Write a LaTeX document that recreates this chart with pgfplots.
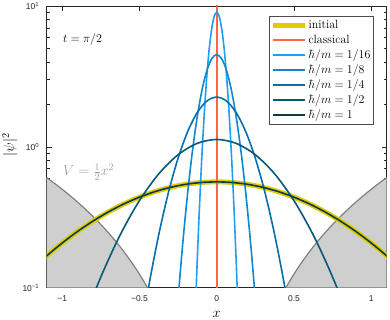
\documentclass[border=0pt]{standalone}
\usepackage{fontspec}
\usepackage{pgfplots}
\pgfplotsset{compat=1.18}
\newfontfamily\ticksf{Liberation Sans}

\definecolor{inityellow}{RGB}{226,204,0}
\definecolor{classred}{RGB}{255,100,70}
\definecolor{cA}{RGB}{30,160,240}
\definecolor{cB}{RGB}{15,135,210}
\definecolor{cC}{RGB}{10,110,170}
\definecolor{cD}{RGB}{8,88,120}
\definecolor{cE}{RGB}{8,60,70}

% hbar/m = 1 (same as initial)
\pgfplotstableread{
x y
-1.2 0.13367
-1.1 0.16824
-1.0 0.20755
-0.9 0.25098
-0.8 0.29749
-0.7 0.34564
-0.6 0.39362
-0.5 0.43939
-0.4 0.48077
-0.3 0.51563
-0.2 0.54207
-0.1 0.55858
0 0.56419
0.1 0.55858
0.2 0.54207
0.3 0.51563
0.4 0.48077
0.5 0.43939
0.6 0.39362
0.7 0.34564
0.8 0.29749
0.9 0.25098
1.0 0.20755
1.1 0.16824
1.2 0.13367
}\hone

\pgfplotstableread{
x y
-1.0 0.020667
-0.875 0.052776
-0.75 0.11893
-0.625 0.23652
-0.5 0.41511
-0.375 0.64293
-0.25 0.87878
-0.125 1.06002
0 1.12838
0.125 1.06002
0.25 0.87878
0.375 0.64293
0.5 0.41511
0.625 0.23652
0.75 0.11893
0.875 0.052776
1.0 0.020667
}\htwo

\pgfplotstableread{
x y
-0.5625 0.014285
-0.5 0.041334
-0.4375 0.10555
-0.375 0.23786
-0.3125 0.47304
-0.25 0.83022
-0.1875 1.28587
-0.125 1.75757
-0.0625 2.12003
0 2.25676
0.0625 2.12003
0.125 1.75757
0.1875 1.28587
0.25 0.83022
0.3125 0.47304
0.375 0.23786
0.4375 0.10555
0.5 0.041334
0.5625 0.014285
}\hfour

\pgfplotstableread{
x y
-0.28125 0.028569
-0.25 0.082668
-0.21875 0.21110
-0.1875 0.47572
-0.15625 0.94608
-0.125 1.66043
-0.09375 2.57173
-0.0625 3.51514
-0.03125 4.24006
0 4.51352
0.03125 4.24006
0.0625 3.51514
0.09375 2.57173
0.125 1.66043
0.15625 0.94608
0.1875 0.47572
0.21875 0.21110
0.25 0.082668
0.28125 0.028569
}\heighth

\pgfplotstableread{
x y
-0.140625 0.057139
-0.125 0.16534
-0.109375 0.42220
-0.09375 0.95144
-0.078125 1.8922
-0.0625 3.3209
-0.046875 5.1434
-0.03125 7.0303
-0.015625 8.4801
0 9.0270
0.015625 8.4801
0.03125 7.0303
0.046875 5.1434
0.0625 3.3209
0.078125 1.8922
0.09375 0.95144
0.109375 0.42220
0.125 0.16534
0.140625 0.057139
}\hsixteen

\begin{document}
\begin{tikzpicture}
\useasboundingbox (-46.7bp,-32.3bp) rectangle (343.3bp,287.7bp);
\begin{axis}[
  at={(0,0)}, anchor=south west,
  scale only axis, width=340bp, height=281.7bp,
  xmin=-1.1, xmax=1.1,
  ymode=log, ymin=0.1, ymax=10,
  xtick={-1,-0.5,0,0.5,1},
  xticklabels={−1,−0.5,0,0.5,1},
  ytick={0.1,1,10},
  yticklabels={10\textsuperscript{−1},10\textsuperscript{0},10\textsuperscript{1}},
  tick label style={font=\ticksf\fontsize{8.5}{10}\selectfont, text=black!85},
  xticklabel style={yshift=-4bp},
  yticklabel style={xshift=-4bp},
  tick align=inside,
  major tick length=5bp, minor tick length=3bp,
  axis line style={black!85, line width=0.6bp},
  every tick/.style={black!85, line width=0.5bp},
  xlabel={$x$}, ylabel={$|\psi|^2$},
  label style={font=\fontsize{14}{16}\selectfont},
  xlabel style={at={(axis description cs:0.5,-0.095)}, anchor=center},
  ylabel style={at={(axis description cs:-0.108,0.507)}, anchor=center},
  legend style={at={(axis description cs:0.96,0.9645)}, anchor=north east,
    font=\fontsize{12}{14}\selectfont, draw=black!70, fill=white,
    inner xsep=1bp, inner ysep=1.5bp,
    nodes={text height=9bp, text depth=3bp, inner sep=1.5bp}},
  legend cell align=left,
  legend image code/.code={\draw[#1] (0bp,0bp) -- (32bp,0bp);},
]
% potential V = x^2/2
\addplot[fill=black!19, draw=none, forget plot] coordinates {
(-1.2,0.72) (-1.15,0.66125) (-1.1,0.605) (-1.05,0.55125) (-1.0,0.5) (-0.95,0.45125)
(-0.9,0.405) (-0.85,0.36125) (-0.8,0.32) (-0.75,0.28125) (-0.7,0.245) (-0.65,0.21125)
(-0.6,0.18) (-0.55,0.15125) (-0.5,0.125) (-0.4472,0.1) (-1.2,0.1)} -- cycle;
\addplot[fill=black!19, draw=none, forget plot] coordinates {
(1.2,0.72) (1.15,0.66125) (1.1,0.605) (1.05,0.55125) (1.0,0.5) (0.95,0.45125)
(0.9,0.405) (0.85,0.36125) (0.8,0.32) (0.75,0.28125) (0.7,0.245) (0.65,0.21125)
(0.6,0.18) (0.55,0.15125) (0.5,0.125) (0.4472,0.1) (1.2,0.1)} -- cycle;
\addplot[black!50, line width=1.2bp, smooth, forget plot] coordinates {
(-1.2,0.72) (-1.15,0.66125) (-1.1,0.605) (-1.05,0.55125) (-1.0,0.5) (-0.95,0.45125)
(-0.9,0.405) (-0.85,0.36125) (-0.8,0.32) (-0.75,0.28125) (-0.7,0.245) (-0.65,0.21125)
(-0.6,0.18) (-0.55,0.15125) (-0.5,0.125) (-0.4472,0.1) (-0.42,0.0882)};
\addplot[black!50, line width=1.2bp, smooth, forget plot] coordinates {
(1.2,0.72) (1.15,0.66125) (1.1,0.605) (1.05,0.55125) (1.0,0.5) (0.95,0.45125)
(0.9,0.405) (0.85,0.36125) (0.8,0.32) (0.75,0.28125) (0.7,0.245) (0.65,0.21125)
(0.6,0.18) (0.55,0.15125) (0.5,0.125) (0.4472,0.1) (0.42,0.0882)};

\addplot[inityellow, line width=5bp, smooth] table {\hone};
\addlegendentry{initial}
\addplot[classred, line width=1.6bp] coordinates {(0,0.05) (0,20)};
\addlegendentry{classical}
\addplot[cA, line width=1.6bp, smooth] table {\hsixteen};
\addlegendentry{$\hbar/m=1/16$}
\addplot[cB, line width=1.6bp, smooth] table {\heighth};
\addlegendentry{$\hbar/m=1/8$}
\addplot[cC, line width=1.6bp, smooth] table {\hfour};
\addlegendentry{$\hbar/m=1/4$}
\addplot[cD, line width=1.6bp, smooth] table {\htwo};
\addlegendentry{$\hbar/m=1/2$}
\addplot[cE, line width=1.6bp, smooth] table {\hone};
\addlegendentry{$\hbar/m=1$}

\node[anchor=west, font=\fontsize{12.5}{15}\selectfont, inner sep=0pt]
  at (axis cs:-0.995,5.75) {$t=\pi/2$};
\node[anchor=west, text=black!38, font=\fontsize{14}{17}\selectfont, inner sep=0pt]
  at (axis cs:-0.995,0.66) {$V=\frac{1}{2}x^2$};
\end{axis}
\end{tikzpicture}
\end{document}
